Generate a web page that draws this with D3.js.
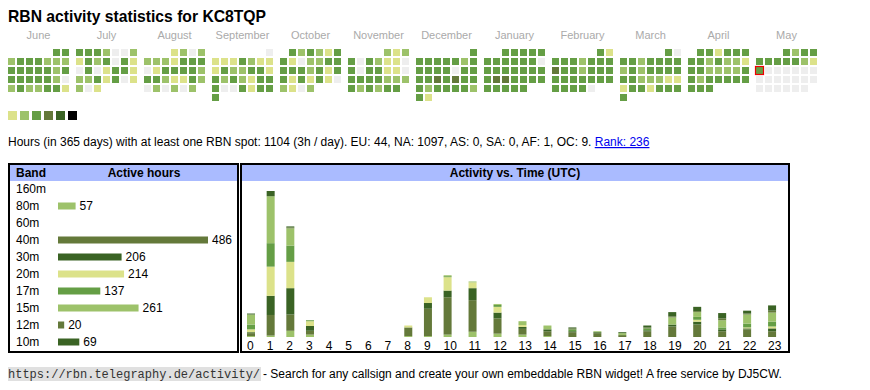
<!DOCTYPE html>
<html>
<head>
<meta charset="utf-8">
<script src="https://cdn.jsdelivr.net/npm/d3@7"></script>
<style>
  body { margin: 0; background: #fff; }
  svg { display: block; font-family: "Liberation Sans", Arial, sans-serif; }
</style>
</head>
<body>
<svg id="chart" width="870" height="390"></svg>
<script>
const callsign = "KC8TQP"
const firstDay = "2024-06-01"
const today = "2025-05-12"

const monthNames = ["June", "July", "August", "September", "October", "November",
  "December", "January", "February", "March", "April", "May"]

// one digit per day, activity level 0..6
const monthLevels = [
  "33" + "2333222" + "3333323" + "3333320" + "2322331",
  "3332002" + "1323031" + "0301331" + "2231301" + "201",
  "1202" + "2221333" + "0133332" + "3321132" + "020202",
  "0" + "1113211" + "1322331" + "3232133" + "3003133" + "3",
  "323213" + "3102233" + "3332313" + "3131310" + "2102",
  "212" + "3032110" + "3033110" + "3333222" + "323233",
  "3" + "3333323" + "3333033" + "3343433" + "3233332" + "31",
  "33333" + "3333330" + "3333333" + "3443333" + "33333",
  "31" + "3332333" + "4332333" + "3333333" + "33330",
  "30" + "3323333" + "2323333" + "3322211" + "1331333" + "3",
  "331333" + "3323221" + "3322223" + "3233333" + "333",
  "3233" + "3333321" + "3000000" + "0000000" + "000000"
]

const legendLevels = [1, 2, 3, 4, 5, 6]

const summary = "Hours (in 365 days) with at least one RBN spot: 1104 (3h / day). EU: 44, NA: 1097, AS: 0, SA: 0, AF: 1, OC: 9. "
const rankText = "Rank: 236"

const bands = ["160m", "80m", "60m", "40m", "30m", "20m", "17m", "15m", "12m", "10m"]
const bandHours = [0, 57, 0, 486, 206, 214, 137, 261, 20, 69]

const hours = [0, 1, 2, 3, 4, 5, 6, 7, 8, 9, 10, 11, 12, 13, 14, 15, 16, 17, 18, 19, 20, 21, 22, 23]
const h160m = [0, 0, 0, 0, 0, 0, 0, 0, 0, 0, 0, 0, 0, 0, 0, 0, 0, 0, 0, 0, 0, 0, 0, 0]
const h80m  = [2, 3, 13, 5, 0, 0, 0, 0, 2, 2, 5, 11, 7, 5, 2, 0, 0, 0, 0, 0, 0, 0, 0, 0]
const h60m  = [0, 0, 0, 0, 0, 0, 0, 0, 0, 0, 0, 0, 0, 0, 0, 0, 0, 0, 0, 0, 0, 0, 0, 0]
const h40m  = [6, 43, 34, 8, 0, 0, 0, 0, 18, 57, 78, 66, 32, 12, 10, 10, 8, 4, 12, 22, 26, 12, 16, 12]
const h30m  = [2, 40, 55, 10, 0, 0, 0, 0, 0, 12, 14, 25, 12, 4, 4, 2, 2, 0, 2, 4, 6, 4, 2, 6]
const h20m  = [6, 61, 55, 10, 0, 0, 0, 0, 4, 12, 28, 12, 12, 4, 0, 0, 0, 0, 0, 0, 4, 0, 2, 4]
const h17m  = [10, 49, 34, 2, 0, 0, 0, 0, 0, 0, 2, 0, 4, 0, 0, 4, 0, 0, 4, 0, 6, 4, 8, 10]
const h15m  = [21, 98, 36, 0, 0, 0, 0, 0, 0, 0, 2, 2, 2, 8, 8, 0, 2, 4, 0, 15, 10, 15, 19, 19]
const h12m  = [0, 0, 2, 0, 0, 0, 0, 0, 0, 0, 0, 0, 0, 0, 0, 2, 0, 0, 2, 2, 2, 4, 2, 4]
const h10m  = [2, 11, 2, 0, 0, 0, 0, 0, 0, 0, 0, 0, 0, 0, 0, 2, 0, 2, 4, 9, 9, 11, 6, 11]

const levelColors = ["#eeeeee", "#dce28a", "#9dc26a", "#659e45", "#64793a", "#3a6324", "#000000"]
const bandColors = ["#dce28a", "#9dc26a", "#659e45", "#64793a", "#3a6324",
  "#dce28a", "#659e45", "#9dc26a", "#64793a", "#3a6324"]
const headBlue = "#aabbff"

let svg = d3.select("#chart")

// title
svg.append("text")
  .attr("x", 8).attr("y", 22)
  .attr("font-size", 15.7).attr("font-weight", "bold")
  .text(`RBN activity statistics for ${callsign}`)

// ---- calendar
let parse = d3.timeParse("%Y-%m-%d")
let start = parse(firstDay), now = parse(today)
let weekday = d => (d.getDay() + 6) % 7

let days = []
monthLevels.forEach((s, m) => {
  let first = d3.timeMonth.offset(start, m)
  s.split("").forEach((c, i) => {
    let date = d3.timeDay.offset(first, i)
    days.push({month: m, date: date, level: +c, col: weekday(date), row: Math.floor((i + weekday(first)) / 7)})
  })
})

let monthX = d3.scaleLinear().domain([0, 1]).range([8, 76])
let cellPos = d3.scaleLinear().domain([0, 1]).range([0, 9])
let cal = svg.append("g")

cal.selectAll(".month-label")
  .data(monthNames).enter()
  .append("text")
  .attr("class", "month-label")
  .attr("x", (d, i) => monthX(i) + 30.5)
  .attr("y", 39)
  .attr("text-anchor", "middle")
  .attr("font-size", 11)
  .attr("fill", "#aaaaaa")
  .text(d => d)

cal.selectAll(".day")
  .data(days).enter()
  .append("rect")
  .attr("class", "day")
  .attr("x", d => monthX(d.month) + cellPos(d.col))
  .attr("y", d => 49 + cellPos(d.row))
  .attr("width", 7).attr("height", 7)
  .attr("fill", d => levelColors[d.level])

let todayCell = days.find(d => +d.date === +now)
cal.append("rect")
  .attr("x", monthX(todayCell.month) + cellPos(todayCell.col) - 0.5)
  .attr("y", 49 + cellPos(todayCell.row) - 0.5)
  .attr("width", 8).attr("height", 8)
  .attr("fill", "none")
  .attr("stroke", "#ee0000").attr("stroke-width", 1.2)

cal.selectAll(".legend")
  .data(legendLevels).enter()
  .append("rect")
  .attr("x", (d, i) => 8 + 12 * i)
  .attr("y", 111)
  .attr("width", 9).attr("height", 9)
  .attr("fill", d => levelColors[d])

// summary line
let sum = svg.append("text")
  .attr("x", 8).attr("y", 146)
  .attr("font-size", 12)
sum.append("tspan").text(summary)
sum.append("tspan")
  .attr("fill", "#0000ee")
  .attr("text-decoration", "underline")
  .text(rankText)

// ---- boxes
function box(x, w) {
  svg.append("rect")
    .attr("x", x + 1).attr("y", 165)
    .attr("width", w - 2).attr("height", 16)
    .attr("fill", headBlue)
  svg.append("rect")
    .attr("x", x).attr("y", 164)
    .attr("width", w).attr("height", 188)
    .attr("fill", "none")
    .attr("stroke", "#000").attr("stroke-width", 2)
}
box(9, 229)
box(241, 548)

svg.append("text").attr("x", 16).attr("y", 177)
  .attr("font-size", 12).attr("font-weight", "bold").text("Band")
svg.append("text").attr("x", 144).attr("y", 177)
  .attr("font-size", 12).attr("font-weight", "bold")
  .attr("text-anchor", "middle").text("Active hours")
svg.append("text").attr("x", 515).attr("y", 177)
  .attr("font-size", 12).attr("font-weight", "bold")
  .attr("text-anchor", "middle").text("Activity vs. Time (UTC)")

// ---- band table
let rowY = d3.scalePoint().domain(bands).range([189, 342])
let barW = d3.scaleLinear().domain([0, d3.max(bandHours)]).range([0, 150])

let rows = svg.append("g").selectAll("g")
  .data(bands.map((b, i) => ({band: b, hours: bandHours[i], color: bandColors[i]})))
  .enter().append("g")
  .attr("transform", d => `translate(0,${rowY(d.band)})`)

rows.append("text")
  .attr("x", 16).attr("y", 4)
  .attr("font-size", 12)
  .text(d => d.band)

rows.filter(d => d.hours > 0).append("rect")
  .attr("x", 58).attr("y", -3.5)
  .attr("width", d => barW(d.hours)).attr("height", 7)
  .attr("fill", d => d.color)

rows.filter(d => d.hours > 0).append("text")
  .attr("x", d => 58 + barW(d.hours) + 4).attr("y", 4)
  .attr("font-size", 12)
  .text(d => d.hours)

// ---- activity vs time
let perBand = [h160m, h80m, h60m, h40m, h30m, h20m, h17m, h15m, h12m, h10m]
let table = hours.map(h => {
  let row = {hour: h}
  bands.forEach((b, i) => { row[b] = perBand[i][h] })
  return row
})
let series = d3.stack().keys(bands)(table)
let totals = table.map(r => d3.sum(bands, b => r[b]))

// table cells are as wide as their label needs
let cellW = hours.map(h => String(h).length === 1 ? 19.66 : 24.96)
let offsets = [0].concat(Array.from(d3.cumsum(cellW)))
let x = d3.scaleOrdinal().domain(hours).range(offsets.map(o => 247 + o))
let y = d3.scaleLinear().domain([0, d3.max(totals)]).range([337, 191])

svg.append("g").selectAll("g")
  .data(series).enter()
  .append("g")
  .attr("fill", (d, i) => bandColors[i])
  .selectAll("rect")
  .data(d => d.filter(p => p[1] > p[0])).enter()
  .append("rect")
  .attr("x", d => x(d.data.hour))
  .attr("y", d => y(d[1]))
  .attr("width", 8)
  .attr("height", d => y(d[0]) - y(d[1]))

svg.append("g").selectAll("text")
  .data(hours).enter()
  .append("text")
  .attr("x", d => x(d))
  .attr("y", 350)
  .attr("font-size", 12)
  .text(d => d)

// ---- footer
let foot = svg.append("g")
foot.append("rect")
  .attr("x", 8).attr("y", 367)
  .attr("width", 253).attr("height", 14)
  .attr("fill", "#e0e0e0")
foot.append("text")
  .attr("x", 8).attr("y", 378)
  .attr("font-family", "'Liberation Mono', monospace")
  .attr("font-size", 12)
  .attr("fill", "#333")
  .text("https://rbn.telegraphy.de/activity/")
foot.append("text")
  .attr("x", 263).attr("y", 378)
  .attr("font-size", 12)
  .text("- Search for any callsign and create your own embeddable RBN widget! A free service by DJ5CW.")
</script>
</body>
</html>
